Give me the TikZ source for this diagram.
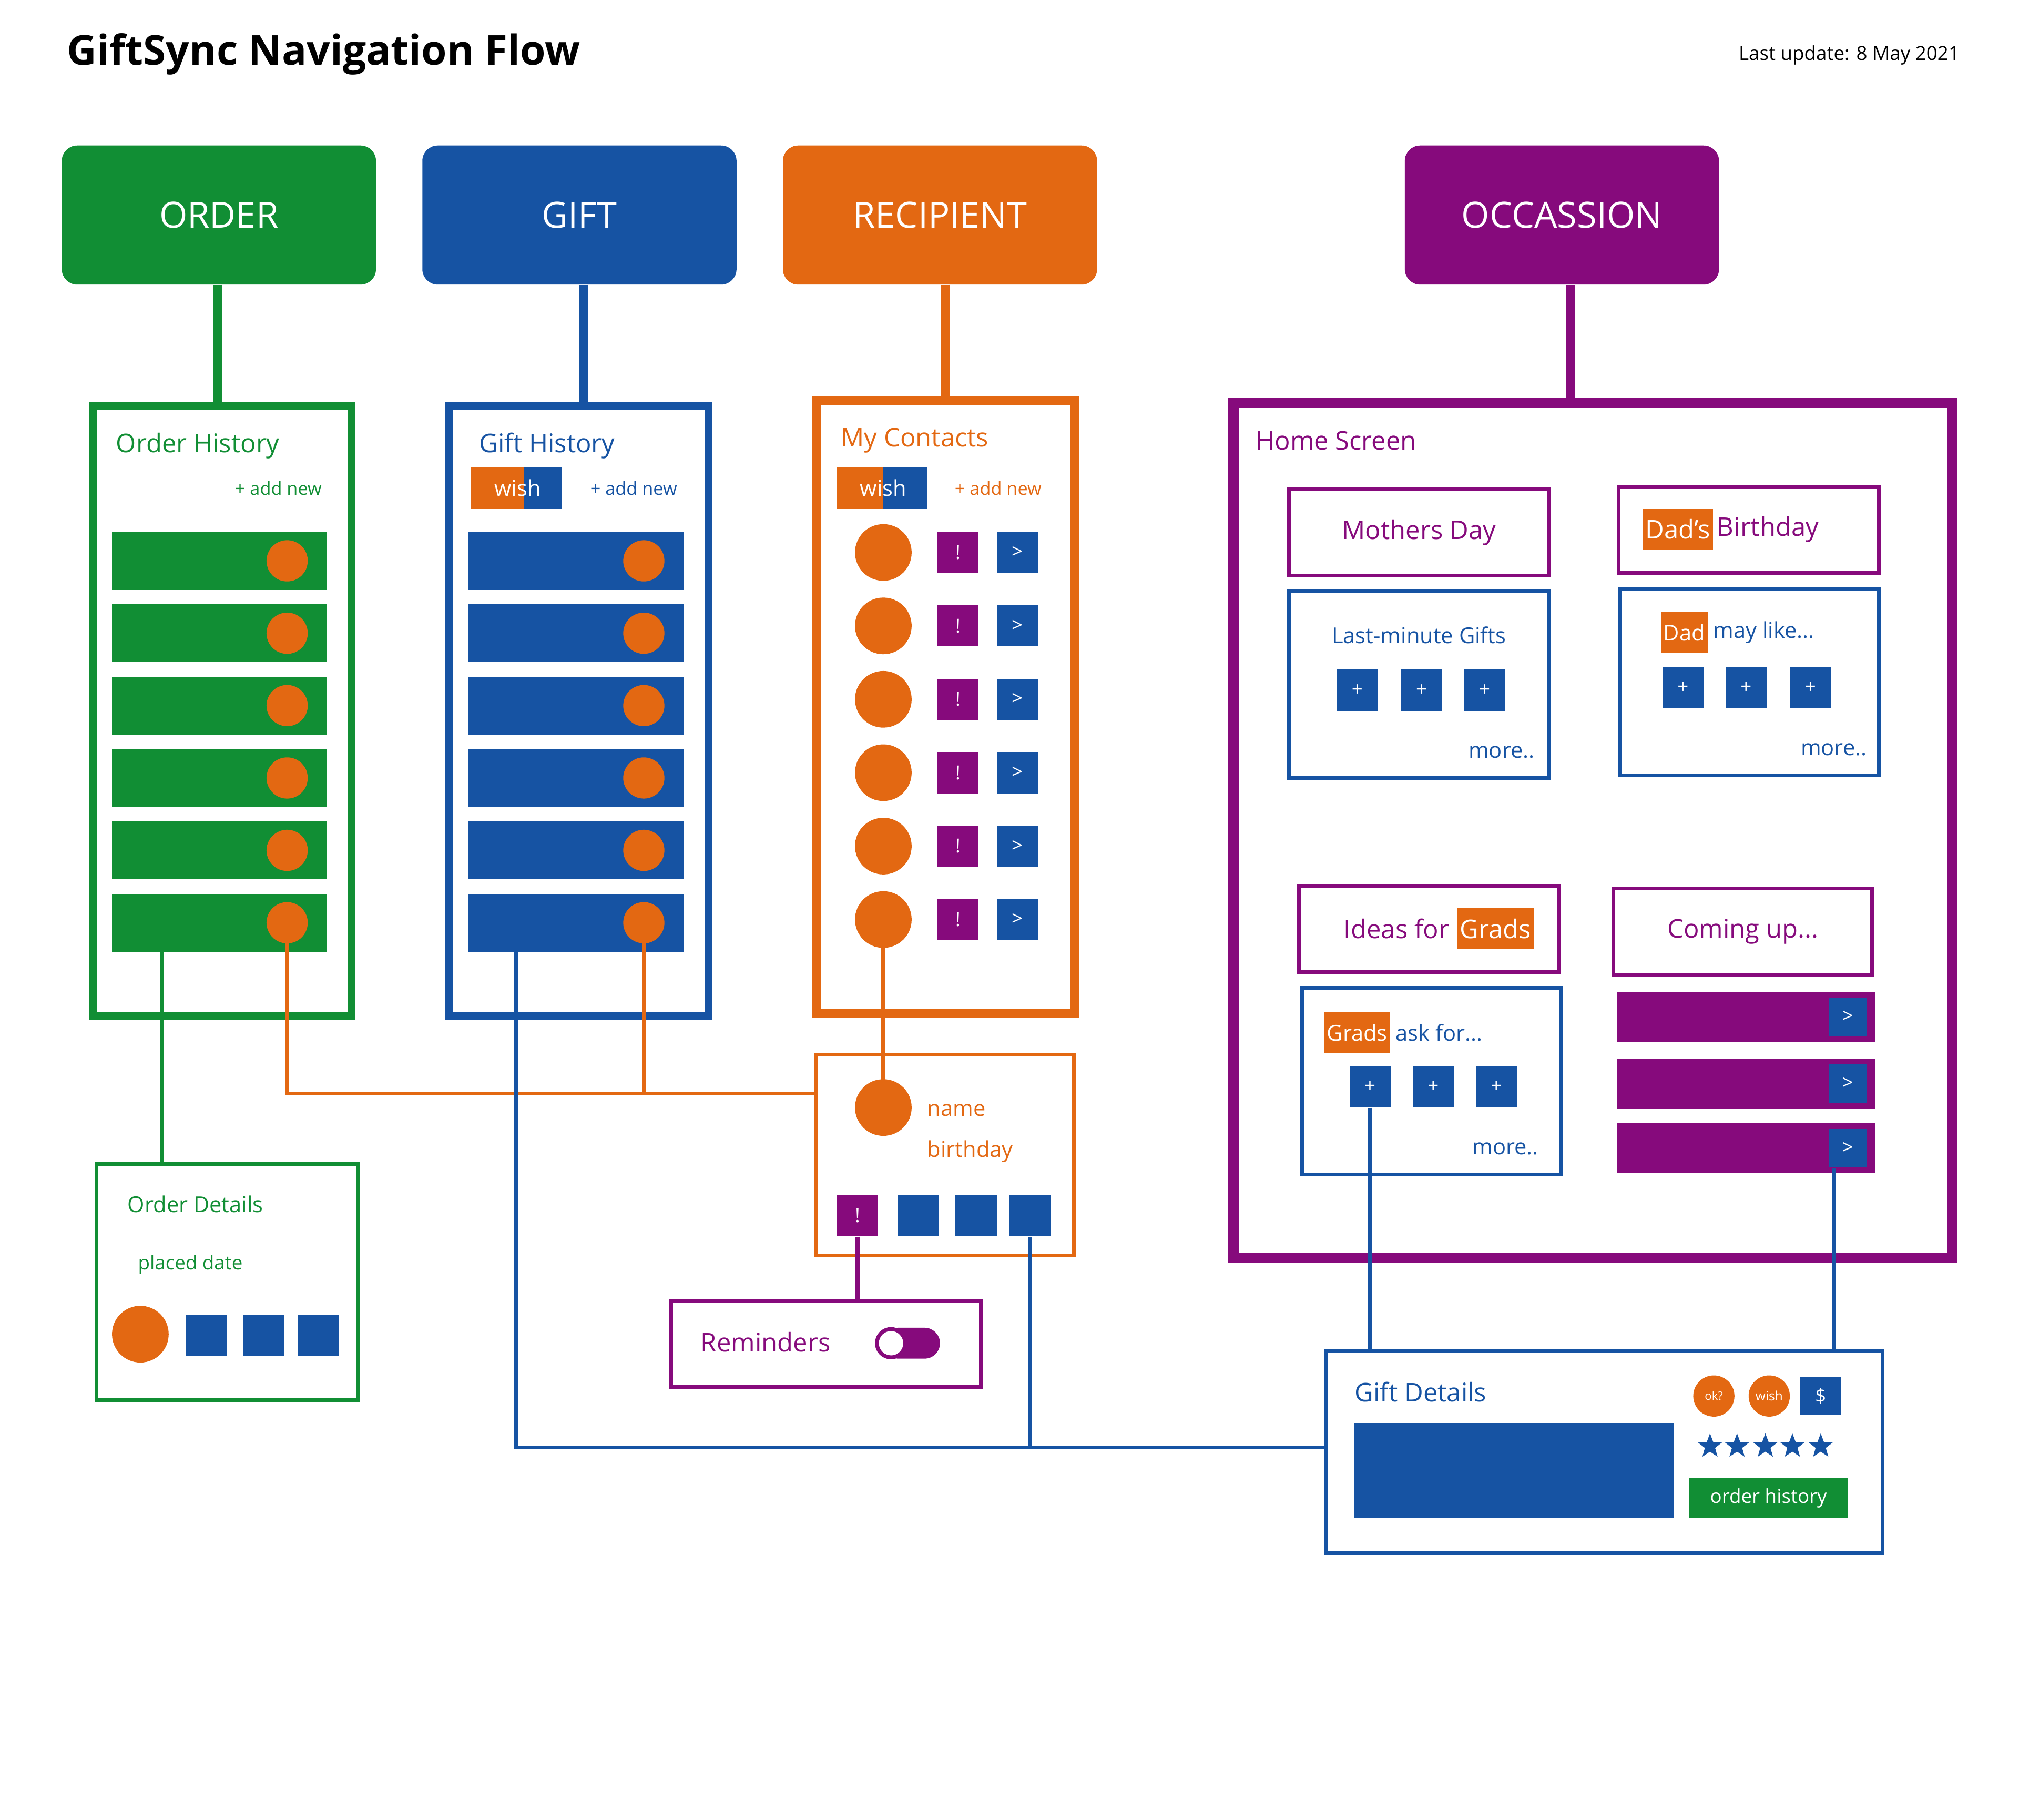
\documentclass[tikz,border=0pt]{standalone}
\usepackage{fontspec}
\setmainfont{Open Sans}
\usetikzlibrary{positioning,shapes.geometric}
\definecolor{cgreen}{RGB}{17,142,52}
\definecolor{cblue}{RGB}{22,83,163}
\definecolor{corange}{RGB}{227,104,18}
\definecolor{cpurple}{RGB}{134,10,124}
\newcommand{\fs}[1]{\fontsize{#1}{#1}\selectfont}
\begin{document}
\begin{tikzpicture}
		[x=1pt,y=-1pt,
		head/.style ={rectangle, rounded corners=12pt, minimum width=244pt, minimum height=108pt, text=white, font=\fs{28}},
		frame/.style ={rectangle, draw, line width=6pt, inner sep=0pt},
		panel/.style ={rectangle, draw, line width=3pt, inner sep=0pt},
		bar/.style ={rectangle, inner sep=0pt, minimum width=167pt, minimum height=45pt},
		dot/.style ={circle, fill=corange, inner sep=0pt, minimum size=32pt},
		bigdot/.style ={circle, fill=corange, inner sep=0pt, minimum size=44pt},
		sq/.style ={rectangle, inner sep=0pt, minimum size=32pt, text=white, font=\fs{15}},
		tag/.style ={rectangle, fill=corange, text=white, inner sep=2pt, minimum height=32pt},
		lbl/.style ={anchor=west, inner sep=0pt},
		link/.style ={line width=3pt},
		stem/.style ={line width=7pt},
		]
		\useasboundingbox (0,0) rectangle (1568,1413);

		% title
		\node[lbl, font=\bfseries\fs{32}] (title) at (52,42) {GiftSync Navigation Flow};
		\node[anchor=east, inner sep=0pt, font=\fs{15}] (upd) at (1522,43) {Last update: 8 May 2021};

		% headers
		\node[head, fill=cgreen] (ORD) at (170,167) {ORDER};
		\node[head, fill=cblue] (GFT) at (450,167) {GIFT};
		\node[head, fill=corange] (RCP) at (730,167) {RECIPIENT};
		\node[head, fill=cpurple] (OCC) at (1213,167) {OCCASSION};

		% order history
		\node[frame, draw=cgreen, minimum width=201pt, minimum height=474pt] (OH) at (172.5,552) {};
		\node[lbl, text=cgreen, font=\fs{20}] (OHt) at (90,346) {Order History};
		\node[anchor=east, inner sep=0pt, text=cgreen, font=\fs{14}] (OHa) at (250,379) {+ add new};
		\foreach \i in {1,...,6} {
			\node[bar, fill=cgreen] (or\i) at (170.5,435.5+56.2*\i-56.2) {};
			\node[dot] (oc\i) at (223,435.5+56.2*\i-56.2) {};
		}

		% gift history
		\node[frame, draw=cblue, minimum width=201pt, minimum height=474pt] (GH) at (449.5,552) {};
		\node[lbl, text=cblue, font=\fs{20}] (GHt) at (372,346) {Gift History};
		\node[rectangle, fill=corange, minimum width=41pt, minimum height=32pt, inner sep=0pt] (gw1) at (386.5,379) {};
		\node[rectangle, fill=cblue, minimum width=29pt, minimum height=32pt, inner sep=0pt] (gw2) at (421.5,379) {};
		\node[text=white, font=\fs{17}, inner sep=0pt] (gw) at (402,379) {wish};
		\node[anchor=east, inner sep=0pt, text=cblue, font=\fs{14}] (GHa) at (526,379) {+ add new};
		\foreach \i in {1,...,6} {
			\node[bar, fill=cblue] (gr\i) at (447.5,435.5+56.2*\i-56.2) {};
			\node[dot] (gc\i) at (500,435.5+56.2*\i-56.2) {};
		}

		% my contacts
		\node[frame, draw=corange, line width=7pt, minimum width=201pt, minimum height=476pt] (MC) at (734.5,549) {};
		\node[lbl, text=corange, font=\fs{20}] (MCt) at (653,342) {My Contacts};
		\node[rectangle, fill=corange, minimum width=36pt, minimum height=32pt, inner sep=0pt] (cw1) at (668,379) {};
		\node[rectangle, fill=cblue, minimum width=34pt, minimum height=32pt, inner sep=0pt] (cw2) at (703,379) {};
		\node[text=white, font=\fs{17}, inner sep=0pt] (cw) at (686,379) {wish};
		\node[anchor=east, inner sep=0pt, text=corange, font=\fs{14}] (MCa) at (809,379) {+ add new};
		\foreach \i in {1,...,6} {
			\node[bigdot] (cc\i) at (686,429+57*\i-57) {};
			\node[sq, fill=cpurple] (ce\i) at (744,429+57*\i-57) {!};
			\node[sq, fill=cblue] (cg\i) at (790,429+57*\i-57) {>};
		}

		% contact detail
		\node[panel, draw=corange, minimum width=200pt, minimum height=156pt] (CD) at (734,897) {};
		\node[bigdot] (cdd) at (686,860) {};
		\node[lbl, text=corange, font=\fs{17}] (cdn) at (720,862) {name};
		\node[lbl, text=corange, font=\fs{17}] (cdb) at (720,894) {birthday};
		\node[sq, fill=cpurple] (cde) at (666,944) {!};
		\node[sq, fill=cblue] (cd1) at (713,944) {};
		\node[sq, fill=cblue] (cd2) at (758,944) {};
		\node[sq, fill=cblue] (cd3) at (800,944) {};

		% order details
		\node[panel, draw=cgreen, minimum width=203pt, minimum height=183pt] (OD) at (176.5,995.5) {};
		\node[lbl, text=cgreen, font=\fs{17}] (ODt) at (99,935) {Order Details};
		\node[lbl, text=cgreen, font=\fs{15}] (ODp) at (107,982) {placed date};
		\node[bigdot] (odd) at (109,1036) {};
		\node[sq, fill=cblue] (od1) at (160,1037) {};
		\node[sq, fill=cblue] (od2) at (205,1037) {};
		\node[sq, fill=cblue] (od3) at (247,1037) {};

		% reminders
		\node[panel, draw=cpurple, minimum width=241pt, minimum height=67pt] (RM) at (641.5,1043.5) {};
		\node[lbl, text=cpurple, font=\fs{20}] (RMt) at (544,1042) {Reminders};
		\node[rectangle, fill=cpurple, rounded corners=12pt, minimum width=44pt, minimum height=24pt, inner sep=0pt] (tgl) at (708,1043) {};
		\node[circle, fill=white, draw=cpurple, line width=3pt, minimum size=22pt, inner sep=0pt] (tgk) at (692,1043) {};

		% home screen
		\node[frame, draw=cpurple, line width=8pt, minimum width=558pt, minimum height=664pt] (HS) at (1237,645) {};
		\node[lbl, text=cpurple, font=\fs{20}] (HSt) at (975,342) {Home Screen};

		\node[panel, draw=cpurple, minimum width=202pt, minimum height=67pt, text=cpurple, font=\fs{20}] (MD) at (1102,413.5) {Mothers Day};
		\node[panel, draw=cblue, minimum width=202pt, minimum height=145pt] (LG) at (1102,531.5) {};
		\node[text=cblue, font=\fs{17}, inner sep=0pt] (LGt) at (1102,493) {Last-minute Gifts};
		\node[sq, fill=cblue] (lg1) at (1054,536) {+};
		\node[sq, fill=cblue] (lg2) at (1104,536) {+};
		\node[sq, fill=cblue] (lg3) at (1153,536) {+};
		\node[anchor=east, inner sep=0pt, text=cblue, font=\fs{17}] (LGm) at (1192,584) {more..};

		\node[panel, draw=cpurple, minimum width=202pt, minimum height=67pt] (DB) at (1358,411.5) {};
		\node[tag, font=\fs{20}] (DBd) at (1303,411) {Dad’s};
		\node[right=3pt of DBd, inner sep=0pt, text=cpurple, font=\fs{20}] (DBt) {Birthday};
		\node[panel, draw=cblue, minimum width=201pt, minimum height=145pt] (DL) at (1358.5,529.5) {};
		\node[tag, font=\fs{17}] (DLd) at (1308,491) {Dad};
		\node[right=4pt of DLd, inner sep=0pt, text=cblue, font=\fs{17}] (DLt) {may like...};
		\node[sq, fill=cblue] (dl1) at (1307,534) {+};
		\node[sq, fill=cblue] (dl2) at (1356,534) {+};
		\node[sq, fill=cblue] (dl3) at (1406,534) {+};
		\node[anchor=east, inner sep=0pt, text=cblue, font=\fs{17}] (DLm) at (1450,582) {more..};

		\node[panel, draw=cpurple, minimum width=202pt, minimum height=67pt] (IG) at (1110,721.5) {};
		\node[tag, font=\fs{20}] (IGg) at (1161.5,721) {Grads};
		\node[left=6pt of IGg, inner sep=0pt, text=cpurple, font=\fs{20}] (IGt) {Ideas for};
		\node[panel, draw=cblue, minimum width=201pt, minimum height=145pt] (GA) at (1111.5,839.5) {};
		\node[tag, font=\fs{17}] (GAg) at (1054,802) {Grads};
		\node[right=4pt of GAg, inner sep=0pt, text=cblue, font=\fs{17}] (GAt) {ask for...};
		\node[sq, fill=cblue] (ga1) at (1064,844) {+};
		\node[sq, fill=cblue] (ga2) at (1113,844) {+};
		\node[sq, fill=cblue] (ga3) at (1162,844) {+};
		\node[anchor=east, inner sep=0pt, text=cblue, font=\fs{17}] (GAm) at (1195,892) {more..};

		\node[panel, draw=cpurple, minimum width=201pt, minimum height=67pt, text=cpurple, font=\fs{20}] (CU) at (1353.5,723.5) {Coming up...};
		\foreach \y [count=\i] in {789.5,841.5,891.5} {
			\node[rectangle, fill=cpurple, minimum width=200pt, minimum height=39pt, inner sep=0pt] (cb\i) at (1356,\y) {};
			\node[sq, fill=cblue, minimum size=30pt] (cn\i) at (1435,\y) {>};
		}

		% gift details
		\node[panel, draw=cblue, minimum width=432pt, minimum height=157pt] (GD) at (1246,1127.5) {};
		\node[lbl, text=cblue, font=\fs{20}] (GDt) at (1052,1081) {Gift Details};
		\node[rectangle, fill=cblue, minimum width=248pt, minimum height=74pt, inner sep=0pt] (GDi) at (1176,1142) {};
		\node[dot, text=white, font=\fs{9}] (gdo) at (1331,1084) {ok?};
		\node[dot, text=white, font=\fs{10}] (gdw) at (1374,1084) {wish};
		\node[sq, fill=cblue, minimum height=30pt] (gdp) at (1414,1084) {\$};
		\foreach \x [count=\i] in {1328,1349,1371,1392,1414}
			\node[star, star points=5, star point ratio=2.4, fill=cblue, inner sep=0pt, minimum size=20pt] (st\i) at (\x,1123) {};
		\node[rectangle, fill=cgreen, text=white, font=\fs{15}, minimum width=123pt, minimum height=31pt, inner sep=0pt] (GDo) at (1373.5,1163.5) {order history};

		% stems
		\draw[stem, cgreen] (ORD.south -| 169,0) -- (OH.north -| 169,0);
		\draw[stem, cblue] (GFT.south -| 453,0) -- (GH.north -| 453,0);
		\draw[stem, corange] (RCP.south -| 734,0) -- (MC.north -| 734,0);
		\draw[stem, cpurple] (OCC.south -| 1220,0) -- (HS.north -| 1220,0);

		% links
		\draw[link, cgreen] (or6.south -| 126,0) -- (OD.north -| 126,0);
		\draw[link, corange] (oc6.center) |- (CD.west |- 0,849);
		\draw[link, corange] (gc6.center) -- (gc6.center |- 0,849);
		\draw[link, corange] (cc6.center) -- (cdd.center);
		\draw[link, cpurple] (cde.south) -- (RM.north -| cde);
		\draw[link, cblue] (gr6.south -| 401,0) |- (GD.west |- 0,1124);
		\draw[link, cblue] (cd3.south) -- (cd3.south |- 0,1124);
		\draw[link, cblue] (ga1.south) -- (GD.north -| ga1);
		\draw[link, cblue] (cn3.south -| 1424,0) -- (GD.north -| 1424,0);
	\end{tikzpicture}
\end{document}
